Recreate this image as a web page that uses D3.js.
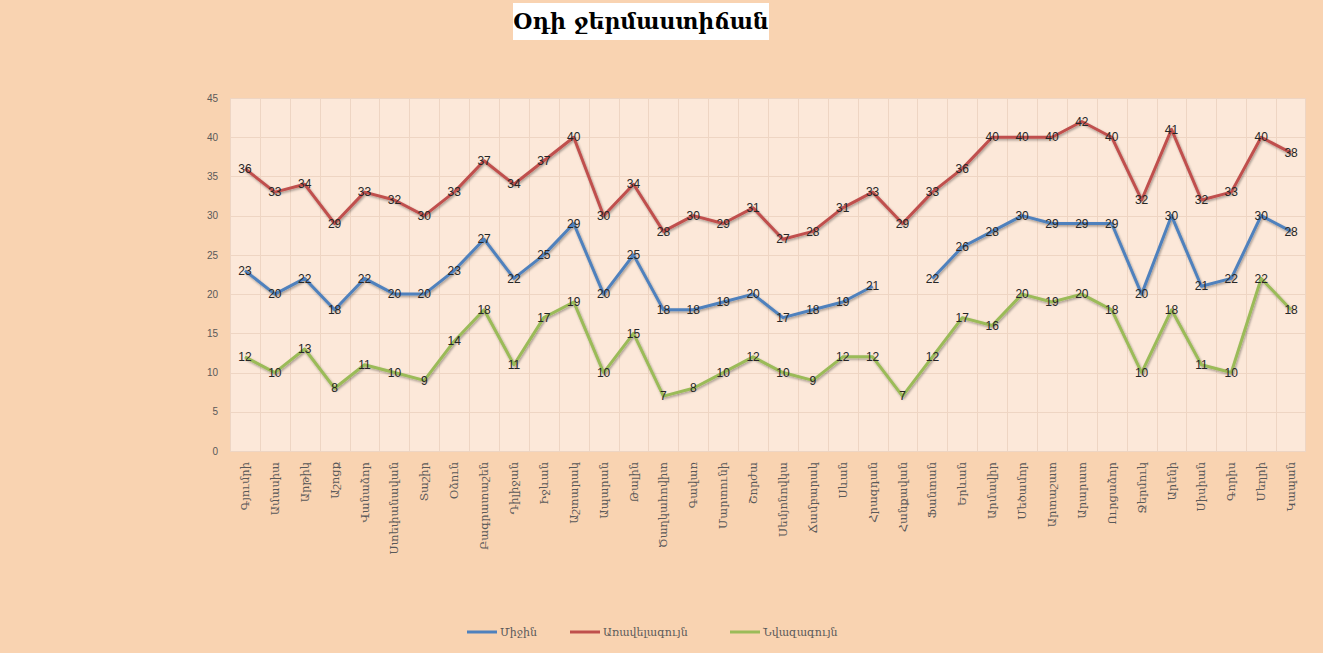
<!DOCTYPE html>
<html>
<head>
<meta charset="utf-8">
<script src="https://cdn.jsdelivr.net/npm/d3@7"></script>
<style>
  body { margin: 0; background: #F9D3B1; }
  svg { display: block; }
</style>
</head>
<body>
<div id="chart"></div>
<script>
const cities = ["Գյումրի", "Ամասիա", "Արթիկ", "Աշոցք", "Վանաձոր", "Ստեփանավան", "Տաշիր", "Օձուն",
  "Բագրատաշեն", "Դիլիջան", "Իջևան", "Աշտարակ", "Ապարան", "Թալին", "Ծաղկահովիտ", "Գավառ",
  "Մարտունի", "Շորժա", "Սեմյոնովկա", "Ճամբարակ", "Սևան", "Հրազդան", "Հանքավան", "Ֆանտան",
  "Երևան", "Արմավիր", "Մեծամոր", "Արտաշատ", "Արարատ", "Ուրցաձոր", "Ջերմուկ", "Արենի",
  "Սիսիան", "Գորիս", "Մեղրի", "Կապան"];

const avgTemp = [23, 20, 22, 18, 22, 20, 20, 23, 27, 22, 25, 29, 20, 25, 18, 18, 19, 20, 17, 18, 19, 21,
  null, 22, 26, 28, 30, 29, 29, 29, 20, 30, 21, 22, 30, 28];
const maxTemp = [36, 33, 34, 29, 33, 32, 30, 33, 37, 34, 37, 40, 30, 34, 28, 30, 29, 31, 27, 28, 31, 33,
  29, 33, 36, 40, 40, 40, 42, 40, 32, 41, 32, 33, 40, 38];
const minTemp = [12, 10, 13, 8, 11, 10, 9, 14, 18, 11, 17, 19, 10, 15, 7, 8, 10, 12, 10, 9, 12, 12,
  7, 12, 17, 16, 20, 19, 20, 18, 10, 18, 11, 10, 22, 18];

const yTicks = [0, 5, 10, 15, 20, 25, 30, 35, 40, 45];

const series = [
  { name: "Միջին", values: avgTemp, color: "#4F81BD" },
  { name: "Առավելագույն", values: maxTemp, color: "#C0504D" },
  { name: "Նվազագույն", values: minTemp, color: "#9BBB59" }
];

const width = 1323, height = 653;
const plot = { left: 230, right: 1306, top: 98, bottom: 451 };
const serif = "'DejaVu Serif', serif";

const svg = d3.select("#chart").append("svg")
  .attr("width", width)
  .attr("height", height);

// soft shadow like the office line style
const defs = svg.append("defs");
const filt = defs.append("filter").attr("id", "shadow")
  .attr("x", "-5%").attr("y", "-5%").attr("width", "110%").attr("height", "110%");
filt.append("feDropShadow").attr("dx", 1).attr("dy", 1.5).attr("stdDeviation", 1)
  .attr("flood-color", "#000").attr("flood-opacity", 0.35);

svg.append("rect").attr("width", width).attr("height", height).attr("fill", "#F9D3B1");

// title
svg.append("rect").attr("x", 513).attr("y", 3).attr("width", 256).attr("height", 37).attr("fill", "#fff");
svg.append("text")
  .attr("x", 641).attr("y", 29)
  .attr("text-anchor", "middle")
  .attr("font-family", serif)
  .attr("font-weight", "bold")
  .attr("font-size", 22)
  .attr("fill", "#000")
  .text("Օդի ջերմաստիճան");

const x = d3.scaleBand().domain(cities).range([plot.left, plot.right]);
const y = d3.scaleLinear().domain([0, 45]).range([plot.bottom, plot.top]);

// plot area
svg.append("rect")
  .attr("x", plot.left).attr("y", plot.top)
  .attr("width", plot.right - plot.left).attr("height", plot.bottom - plot.top)
  .attr("fill", "#FCE8D9");

const grid = svg.append("g").attr("stroke", "#EED5C3").attr("stroke-width", 1);
grid.selectAll("line.h").data(yTicks).enter().append("line")
  .attr("x1", plot.left).attr("x2", plot.right)
  .attr("y1", d => Math.round(y(d)) + 0.5).attr("y2", d => Math.round(y(d)) + 0.5);
grid.selectAll("line.v").data(cities).enter().append("line")
  .attr("x1", d => Math.round(x(d)) + 0.5).attr("x2", d => Math.round(x(d)) + 0.5)
  .attr("y1", plot.top).attr("y2", plot.bottom);
grid.append("line")
  .attr("x1", plot.right - 0.5).attr("x2", plot.right - 0.5)
  .attr("y1", plot.top).attr("y2", plot.bottom);

// y axis
const yAxis = svg.append("g")
  .attr("transform", `translate(${plot.left - 12},0)`)
  .call(d3.axisLeft(y).tickValues(yTicks).tickSize(0).tickPadding(0));
yAxis.select(".domain").remove();
yAxis.selectAll("text")
  .attr("font-family", "'Liberation Sans', Arial, sans-serif")
  .attr("font-size", 10)
  .attr("fill", "#595959");

// x axis labels
const xAxis = svg.append("g")
  .attr("transform", `translate(0,${plot.bottom})`)
  .call(d3.axisBottom(x).tickSize(0).tickPadding(0));
xAxis.select(".domain").remove();
xAxis.selectAll("text")
  .attr("font-family", serif)
  .attr("font-size", 11.5)
  .attr("fill", "#595959")
  .attr("text-anchor", "end")
  .attr("dy", "0.35em")
  .attr("transform", "translate(0,11) rotate(-90)")
  .attr("x", 0).attr("y", 0);

const cx = d => x(d) + x.bandwidth() / 2;

const line = d3.line()
  .defined(d => d.v != null)
  .x(d => cx(d.c))
  .y(d => y(d.v));

series.forEach(s => {
  const pts = cities.map((c, i) => ({ c, v: s.values[i] }));
  svg.append("path")
    .datum(pts)
    .attr("d", line)
    .attr("fill", "none")
    .attr("stroke", s.color)
    .attr("stroke-width", 3)
    .attr("stroke-linejoin", "round")
    .attr("filter", "url(#shadow)");
});

series.forEach(s => {
  const pts = cities.map((c, i) => ({ c, v: s.values[i] })).filter(d => d.v != null);
  svg.append("g").selectAll("text")
    .data(pts).enter().append("text")
    .attr("x", d => cx(d.c))
    .attr("y", d => y(d.v))
    .attr("dy", "0.35em")
    .attr("text-anchor", "middle")
    .attr("font-family", "'Liberation Sans', Arial, sans-serif")
    .attr("font-size", 12)
    .attr("fill", "#262626")
    .text(d => d.v);
});

// legend
const legendItems = [
  { s: series[0], x: 467 },
  { s: series[1], x: 570 },
  { s: series[2], x: 730 }
];
const legend = svg.append("g").attr("transform", "translate(0,632)");
legendItems.forEach(it => {
  legend.append("line")
    .attr("x1", it.x).attr("x2", it.x + 30)
    .attr("y1", 0).attr("y2", 0)
    .attr("stroke", it.s.color).attr("stroke-width", 3);
  legend.append("text")
    .attr("x", it.x + 33).attr("y", 0).attr("dy", "0.35em")
    .attr("font-family", serif)
    .attr("font-size", 11)
    .attr("fill", "#595959")
    .text(it.s.name);
});
</script>
</body>
</html>
